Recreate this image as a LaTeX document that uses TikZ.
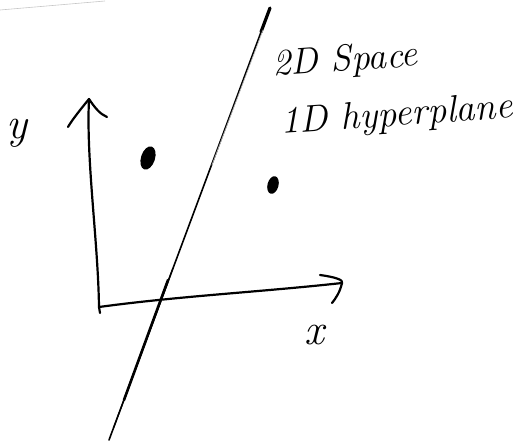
\documentclass[tikz,border=0pt]{standalone}
\usepackage{fontspec}
\begin{document}
\begin{tikzpicture}[x=1pt,y=-1pt,
  ink/.style={line width=2.2pt,line cap=round,line join=round,black},
  faint/.style={line width=0.7pt,line cap=round,gray!60},
  hand/.style={font=\fontsize{37}{40}\selectfont\itshape,inner sep=0pt,anchor=base west},
  dotmark/.style={fill=black}]
\useasboundingbox (0,0) rectangle (526,441);
% faint scan edge
\draw[gray!45,line width=0.6pt] (0,10) -- (105,1);
% named points
\coordinate (O) at (99,307);
\coordinate (ytip) at (89,99);
\coordinate (xtip) at (342,283);
\coordinate (htop) at (270,8);
\coordinate (hbot) at (109,440);
% y axis
\draw[ink] (O) .. controls (98,240) and (86,160) .. (ytip);
\draw[ink] (ytip) .. controls (80,110) and (72,120) .. (68,127);
\draw[ink] (ytip) .. controls (95,108) and (100,114) .. (107,117);
\draw[ink] (O) -- (100,313);
% x axis
\draw[ink] (O) .. controls (180,296) and (260,292) .. (xtip);
\draw[ink] (320,275) .. controls (335,277) and (344,280) .. (xtip);
\draw[ink] (xtip) .. controls (340,292) and (336,298) .. (332,303);
% hyperplane (sketched with several strokes)
\draw[line width=1.6pt,line cap=round,black] (htop) -- (hbot);
\draw[line width=3.2pt,line cap=round,black] (htop) -- (261,32);
\draw[faint] (263,30) -- (212,165);
\draw[line width=1.2pt,line cap=round,black] (173,268) -- (153,322) -- (113.5,428);
\draw[line width=2.6pt,line cap=round,black] (168,280) -- (124,400);
% points
\fill[dotmark,rotate around={-18:(148,158)}] (148,158) ellipse (7 and 12);
\fill[dotmark,rotate around={-15:(273,185)}] (273,185) ellipse (5.5 and 9);
% labels
\node[hand,font=\fontsize{44}{44}\selectfont\itshape] (ylab) at (6,138) {y};
\node[hand,font=\fontsize{44}{44}\selectfont\itshape] (xlab) at (304,344) {x};
\node[hand,rotate=4] (t1) at (273,76) {2D Space};
\node[hand,rotate=4,font=\fontsize{38}{40}\selectfont\itshape] (t2) at (281,134) {1D hyperplane};
\end{tikzpicture}
\end{document}
